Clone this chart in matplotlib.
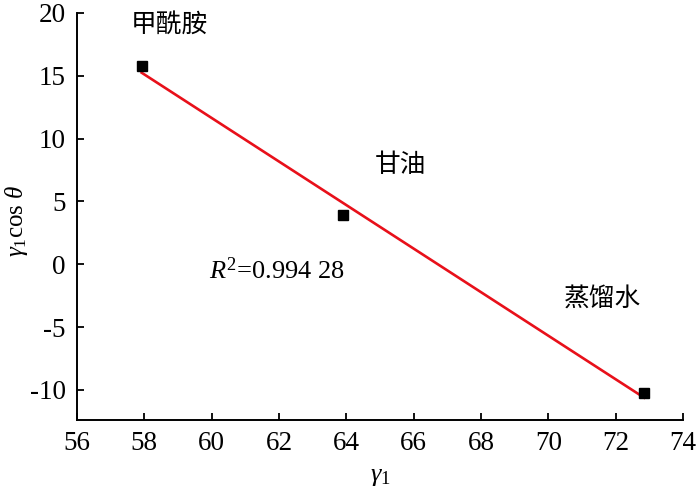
import matplotlib
matplotlib.use("Agg")
import matplotlib.pyplot as plt
import numpy as np

x_vals = [57.92, 63.91, 72.84]
y_vals = [15.8, 3.93, -10.25]
labels = ["甲酰胺", "甘油", "蒸馏水"]
label_pos = [(58.73, 19.05), (65.6, 7.9), (71.6, -2.85)]
r2_text = "0.994 28"

xticks = list(range(56, 75, 2))
yticks = [-10, -5, 0, 5, 10, 15, 20]

plt.rcParams['font.family'] = ['Liberation Serif', 'Noto Sans CJK SC']
plt.rcParams['mathtext.fontset'] = 'custom'
plt.rcParams['mathtext.rm'] = 'Liberation Serif'
plt.rcParams['mathtext.it'] = 'Liberation Serif:italic'
plt.rcParams['axes.unicode_minus'] = False

fig = plt.figure(figsize=(7, 4.91), dpi=100)
ax = fig.add_axes([0.11, 0.1446, 0.866, 0.829])

xa = np.array(x_vals)
ya = np.array(y_vals)
k, b = np.polyfit(xa, ya, 1)
xl = np.array([xa.min(), xa.max()])
ax.plot(xl, k * xl + b, color='#e8101a', lw=1.9, zorder=2)
ax.plot(xa, ya, 's', color='black', ms=7, zorder=3)

for t, (px, py) in zip(labels, label_pos):
    ax.text(px, py, t, ha='center', va='center', fontsize=18.5,
            family=['Noto Sans CJK SC'], fontweight='light')
ax.text(61.95, -0.5, r"$R^2$=" + r2_text, ha='center', va='center', fontsize=19)

ax.set_xlim(56, 74)
ax.set_ylim(-12.4, 20)
ax.set_xticks(xticks)
ax.set_yticks(yticks)
ax.tick_params(direction='in', length=5, width=1.3, labelsize=19.5, pad=8)
for s in ['top', 'right']:
    ax.spines[s].set_visible(False)
for s in ['left', 'bottom']:
    ax.spines[s].set_linewidth(1.4)

ax.set_xlabel(r"$\gamma_1$", fontsize=19, labelpad=7)
ax.set_ylabel(r"$\gamma_1\mathrm{cos}\ \theta$", fontsize=18)
ax.yaxis.set_label_coords(-0.077, 0.488)

fig.savefig("out.png", dpi=100)
